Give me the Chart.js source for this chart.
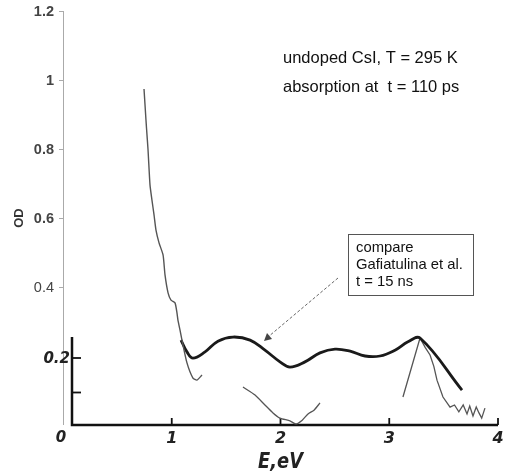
<!DOCTYPE html>
<html>
<head>
<meta charset="utf-8">
<script src="https://cdn.jsdelivr.net/npm/chart.js@4.4.1/dist/chart.umd.min.js"></script>
<style>
  body { margin: 0; background: #fff; }
  #wrap { width: 509px; height: 476px; }
</style>
</head>
<body>
<div id="wrap"><canvas id="myChart" width="509" height="476"></canvas></div>
<script>
// outer axis ticks (OD)
const outerTicks = [0.4, 0.6, 0.8, 1, 1.2];
const outerLabels = ["0.4", "0.6", "0.8", "1", "1.2"];
// inner (pasted) plot ticks
const innerYTicks = [0.1, 0.2];
const innerXTicks = [1, 2, 3, 4];
const innerXLabels = ["1", "2", "3", "4"];

// thin curve, t = 110 ps, low energy part
const lowE = [0.745, 0.763, 0.768, 0.782, 0.80, 0.818, 0.837, 0.855, 0.883, 0.92, 0.938, 0.966, 0.993, 1.03, 1.048, 1.057, 1.076, 1.094, 1.14, 1.195, 1.232, 1.278];
const lowOD = [0.974, 0.884, 0.86, 0.797, 0.696, 0.652, 0.609, 0.565, 0.528, 0.493, 0.435, 0.383, 0.362, 0.354, 0.325, 0.304, 0.275, 0.246, 0.18, 0.136, 0.13, 0.145];

// thick curve, Gafiatulina et al., t = 15 ns
const gafE = [1.085, 1.14, 1.195, 1.306, 1.425, 1.563, 1.72, 1.857, 1.995, 2.087, 2.225, 2.363, 2.501, 2.64, 2.777, 2.915, 3.053, 3.172, 3.283, 3.669];
const gafOD = [0.246, 0.212, 0.194, 0.212, 0.243, 0.255, 0.246, 0.217, 0.183, 0.168, 0.183, 0.209, 0.22, 0.214, 0.2, 0.2, 0.217, 0.241, 0.252, 0.101];

// thin curve, middle band
const midE = [1.655, 1.766, 1.857, 1.931, 1.995, 2.087, 2.14, 2.2, 2.253, 2.308, 2.363];
const midOD = [0.11, 0.087, 0.058, 0.035, 0.02, 0.012, 0.003, 0.014, 0.032, 0.043, 0.064];

// thin curve, high energy band
const highE = [3.126, 3.283, 3.33, 3.375, 3.41, 3.439, 3.494, 3.559, 3.60, 3.64, 3.68, 3.715, 3.74, 3.77, 3.80, 3.825, 3.85, 3.88];
const highOD = [0.081, 0.252, 0.225, 0.203, 0.17, 0.13, 0.081, 0.052, 0.058, 0.038, 0.058, 0.032, 0.055, 0.026, 0.052, 0.035, 0.02, 0.049];

const pts = (xs, ys) => xs.map((x, i) => ({ x: x, y: ys[i] }));

// axes + annotations
const figurePlugin = {
  id: "figure",
  beforeDatasetsDraw(chart) {
    const ctx = chart.ctx;
    const xs = chart.scales.x;
    const ys = chart.scales.y;
    const x0 = xs.getPixelForValue(0);
    const yTop = ys.getPixelForValue(1.2);
    const yBot = ys.getPixelForValue(0);
    ctx.save();
    // outer grey OD axis
    ctx.strokeStyle = "#aaa";
    ctx.lineWidth = 1;
    ctx.beginPath();
    ctx.moveTo(x0 + 0.5, yTop);
    ctx.lineTo(x0 + 0.5, yBot);
    ctx.stroke();
    ctx.fillStyle = "#444";
    ctx.textAlign = "right";
    ctx.textBaseline = "middle";
    outerTicks.forEach((v, i) => {
      const y = Math.round(ys.getPixelForValue(v)) + 0.5;
      ctx.beginPath();
      ctx.moveTo(x0 - 4, y);
      ctx.lineTo(x0, y);
      ctx.stroke();
      ctx.font = (v === 0.4 ? "" : "bold ") + "14.5px 'Liberation Sans', Arial";
      ctx.fillText(outerLabels[i], x0 - 9, y);
    });
    // inner black axes
    const xi = x0 + 9;
    const yiTop = ys.getPixelForValue(0.255);
    ctx.strokeStyle = "#111";
    ctx.lineWidth = 2.5;
    ctx.beginPath();
    ctx.moveTo(xi, yiTop);
    ctx.lineTo(xi, yBot);
    ctx.lineTo(xs.getPixelForValue(4), yBot);
    ctx.stroke();
    ctx.lineWidth = 1.8;
    innerYTicks.forEach(v => {
      const y = ys.getPixelForValue(v) + 2;
      ctx.beginPath();
      ctx.moveTo(xi, y);
      ctx.lineTo(xi + 9, y);
      ctx.stroke();
    });
    innerXTicks.forEach(v => {
      const x = xs.getPixelForValue(v);
      ctx.beginPath();
      ctx.moveTo(x, yBot);
      ctx.lineTo(x, yBot - 7);
      ctx.stroke();
    });
    ctx.fillStyle = "#222";
    ctx.font = "italic bold 15px 'DejaVu Sans', sans-serif";
    ctx.textAlign = "right";
    ctx.fillText("0.2", xi - 2, ys.getPixelForValue(0.2) + 3);
    ctx.textAlign = "center";
    ctx.fillText("0", x0 - 2, yBot + 13);
    ctx.font = "italic bold 16px 'DejaVu Sans', sans-serif";
    ctx.textBaseline = "top";
    innerXTicks.forEach((v, i) => {
      ctx.fillText(innerXLabels[i], xs.getPixelForValue(v), yBot + 6);
    });
    // E,eV in a narrow italic
    ctx.save();
    ctx.translate(xs.getPixelForValue(2.0), yBot + 27);
    ctx.scale(0.85, 1);
    ctx.font = "italic bold 21px 'DejaVu Sans', sans-serif";
    ctx.fillText("E,eV", 0, 0);
    ctx.restore();
    // OD title
    ctx.save();
    ctx.translate(19, ys.getPixelForValue(0.6));
    ctx.rotate(-Math.PI / 2);
    ctx.font = "bold 13px 'Liberation Sans', Arial";
    ctx.fillStyle = "#333";
    ctx.textBaseline = "middle";
    ctx.fillText("OD", 0, 0);
    ctx.restore();
    ctx.restore();
  },
  afterDraw(chart) {
    const ctx = chart.ctx;
    ctx.save();
    ctx.fillStyle = "#111";
    ctx.font = "16.5px 'Liberation Sans', Arial";
    ctx.textAlign = "left";
    ctx.textBaseline = "middle";
    ctx.fillText("undoped CsI, T = 295 K", 283, 58);
    ctx.fillText("absorption at  t = 110 ps", 283, 87);
    // box
    ctx.strokeStyle = "#555";
    ctx.lineWidth = 1;
    ctx.strokeRect(348.5, 234.5, 125, 61);
    ctx.font = "14.8px 'Liberation Sans', Arial";
    ctx.fillText("compare", 356, 248);
    ctx.fillText("Gafiatulina et al.", 356, 265);
    ctx.fillText("t = 15 ns", 356, 282);
    // dashed arrow
    ctx.strokeStyle = "#666";
    ctx.setLineDash([3, 2]);
    ctx.beginPath();
    ctx.moveTo(338, 278);
    ctx.lineTo(268, 337);
    ctx.stroke();
    ctx.setLineDash([]);
    ctx.fillStyle = "#444";
    ctx.beginPath();
    ctx.moveTo(264, 341);
    ctx.lineTo(267, 333);
    ctx.lineTo(272, 339);
    ctx.closePath();
    ctx.fill();
    ctx.restore();
  },
};

const data = {
  datasets: [
    { data: pts(lowE, lowOD), borderColor: "#555", borderWidth: 1.4, tension: 0.2 },
    { data: pts(gafE, gafOD), borderColor: "#1a1a1a", borderWidth: 2.8, tension: 0.4 },
    { data: pts(midE, midOD), borderColor: "#555", borderWidth: 1.3, tension: 0.2 },
    { data: pts(highE, highOD), borderColor: "#555", borderWidth: 1.3, tension: 0 },
  ],
};

const config = {
  type: "line",
  data: data,
  options: {
    responsive: false,
    animation: false,
    layout: { padding: { left: 63, top: 11, right: 11, bottom: 51 } },
    elements: { point: { radius: 0 } },
    plugins: { legend: { display: false }, tooltip: { enabled: false } },
    scales: {
      x: { type: "linear", min: 0, max: 4, display: false },
      y: { min: 0, max: 1.2, display: false },
    },
  },
  plugins: [figurePlugin],
};

const myChart = new Chart(document.getElementById("myChart"), config);
</script>
</body>
</html>
